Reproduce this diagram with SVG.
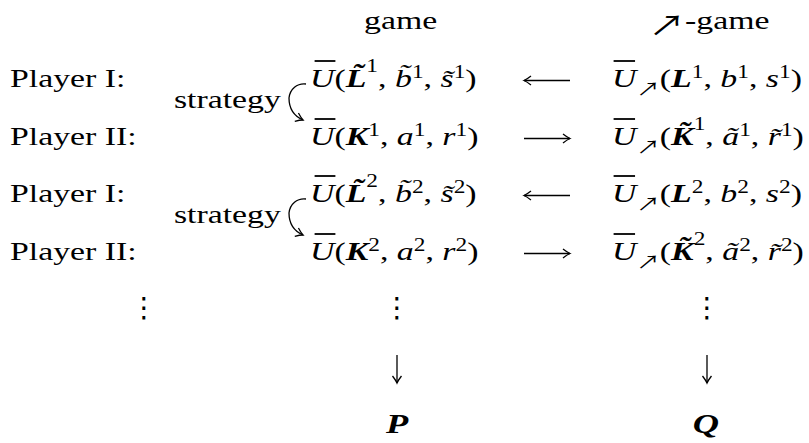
<svg xmlns="http://www.w3.org/2000/svg" width="809" height="443" viewBox="0 0 809 443">
<style>
text { font-family: "Liberation Serif", "DejaVu Serif", serif; font-size: 26px; fill: #000; }
.i { font-style: italic; }
.bi { font-style: italic; font-weight: bold; }
.sup { font-size: 18px; font-style: normal; font-weight: normal; }
.ar { font-family: "Noto Sans CJK JP", "DejaVu Sans", sans-serif; font-size: 18px; font-style: normal; }
.arh { font-family: "Noto Sans CJK JP", "DejaVu Sans", sans-serif; font-size: 28px; }
.dots { font-family: "DejaVu Sans", sans-serif; font-size: 28px; text-anchor: middle; }
.big { font-size: 28px; text-anchor: middle; }
.bar { stroke: #000; stroke-width: 1.8; }
.conn { stroke: #000; stroke-width: 1.3; fill: none; }
</style>
<defs>
<marker id="head" markerUnits="userSpaceOnUse" markerWidth="10" markerHeight="12" viewBox="-8 -6 10 12" refX="0" refY="0" orient="auto">
<path d="M -7 -4.5 Q -2.5 -1 0 0 Q -2.5 1 -7 4.5" fill="none" stroke="#000" stroke-width="1.3"/>
</marker>
</defs>
<rect width="809" height="443" fill="#fff"/>
<g transform="scale(1.3 1)">
<g id="header-game"><text x="280" y="29">game</text></g>
<g id="header-up-game"><text x="499" y="29"><tspan class="arh" y="36">↗</tspan><tspan y="29">-game</tspan></text></g>
<g id="label-p1-1"><text x="7.7" y="87">Player I:</text></g>
<g id="label-p2-1"><text x="7.7" y="145">Player II:</text></g>
<g id="label-p1-2"><text x="7.7" y="202">Player I:</text></g>
<g id="label-p2-2"><text x="7.7" y="260">Player II:</text></g>
<g id="strategy-1"><text x="133.8" y="108">strategy</text></g>
<g id="strategy-2"><text x="133.8" y="223">strategy</text></g>

<g id="game-row1">
<line class="bar" x1="242" y1="61" x2="258" y2="61"/>
<text x="238.5" y="87"><tspan class="i">U</tspan>(<tspan class="bi">L&#x303;</tspan><tspan class="sup" y="72">1</tspan><tspan y="87">, </tspan><tspan class="i">b&#x303;</tspan><tspan class="sup" y="78">1</tspan><tspan y="87">, </tspan><tspan class="i">s&#x303;</tspan><tspan class="sup" y="78">1</tspan><tspan y="87">)</tspan></text>
</g>
<g id="game-row2">
<line class="bar" x1="242" y1="119" x2="258" y2="119"/>
<text x="238.5" y="145"><tspan class="i">U</tspan>(<tspan class="bi">K</tspan><tspan class="sup" y="136">1</tspan><tspan y="145">, </tspan><tspan class="i">a</tspan><tspan class="sup" y="136">1</tspan><tspan y="145">, </tspan><tspan class="i">r</tspan><tspan class="sup" y="136">1</tspan><tspan y="145">)</tspan></text>
</g>
<g id="game-row3">
<line class="bar" x1="242" y1="176" x2="258" y2="176"/>
<text x="238.5" y="202"><tspan class="i">U</tspan>(<tspan class="bi">L&#x303;</tspan><tspan class="sup" y="187">2</tspan><tspan y="202">, </tspan><tspan class="i">b&#x303;</tspan><tspan class="sup" y="193">2</tspan><tspan y="202">, </tspan><tspan class="i">s&#x303;</tspan><tspan class="sup" y="193">2</tspan><tspan y="202">)</tspan></text>
</g>
<g id="game-row4">
<line class="bar" x1="242" y1="234" x2="258" y2="234"/>
<text x="238.5" y="260"><tspan class="i">U</tspan>(<tspan class="bi">K</tspan><tspan class="sup" y="251">2</tspan><tspan y="260">, </tspan><tspan class="i">a</tspan><tspan class="sup" y="251">2</tspan><tspan y="260">, </tspan><tspan class="i">r</tspan><tspan class="sup" y="251">2</tspan><tspan y="260">)</tspan></text>
</g>

<g id="upgame-row1">
<line class="bar" x1="472" y1="61" x2="488.5" y2="61"/>
<text x="470.8" y="87"><tspan class="i">U</tspan><tspan class="ar" y="96">↗</tspan><tspan y="87">(</tspan><tspan class="bi">L</tspan><tspan class="sup" y="78">1</tspan><tspan y="87">, </tspan><tspan class="i">b</tspan><tspan class="sup" y="78">1</tspan><tspan y="87">, </tspan><tspan class="i">s</tspan><tspan class="sup" y="78">1</tspan><tspan y="87">)</tspan></text>
</g>
<g id="upgame-row2">
<line class="bar" x1="472" y1="119" x2="488.5" y2="119"/>
<text x="470.8" y="145"><tspan class="i">U</tspan><tspan class="ar" y="154">↗</tspan><tspan y="145">(</tspan><tspan class="bi">K&#x303;</tspan><tspan class="sup" y="130">1</tspan><tspan y="145">, </tspan><tspan class="i">a&#x303;</tspan><tspan class="sup" y="136">1</tspan><tspan y="145">, </tspan><tspan class="i">r&#x303;</tspan><tspan class="sup" y="136">1</tspan><tspan y="145">)</tspan></text>
</g>
<g id="upgame-row3">
<line class="bar" x1="472" y1="176" x2="488.5" y2="176"/>
<text x="470.8" y="202"><tspan class="i">U</tspan><tspan class="ar" y="211">↗</tspan><tspan y="202">(</tspan><tspan class="bi">L</tspan><tspan class="sup" y="193">2</tspan><tspan y="202">, </tspan><tspan class="i">b</tspan><tspan class="sup" y="193">2</tspan><tspan y="202">, </tspan><tspan class="i">s</tspan><tspan class="sup" y="193">2</tspan><tspan y="202">)</tspan></text>
</g>
<g id="upgame-row4">
<line class="bar" x1="472" y1="234" x2="488.5" y2="234"/>
<text x="470.8" y="260"><tspan class="i">U</tspan><tspan class="ar" y="269">↗</tspan><tspan y="260">(</tspan><tspan class="bi">K&#x303;</tspan><tspan class="sup" y="245">2</tspan><tspan y="260">, </tspan><tspan class="i">a&#x303;</tspan><tspan class="sup" y="251">2</tspan><tspan y="260">, </tspan><tspan class="i">r&#x303;</tspan><tspan class="sup" y="251">2</tspan><tspan y="260">)</tspan></text>
</g>

<g id="limit-P"><text class="bi big" x="305.4" y="433">P</text></g>
<g id="limit-Q"><text class="bi big" x="543" y="433">Q</text></g>
</g>

<g id="dots">
<text class="dots" x="144" y="317">⋮</text>
<text class="dots" x="397" y="317">⋮</text>
<text class="dots" x="707" y="317">⋮</text>
</g>

<g id="connectors">
<path class="conn" d="M 306 84 C 297 83 290 89 289 98 C 289 108 294 116 303 120" marker-end="url(#head)"/>
<path class="conn" d="M 306 199 C 297 198 290 204 289 213 C 289 223 294 231 303 235" marker-end="url(#head)"/>
<line class="conn" x1="570" y1="80.5" x2="524" y2="80.5" marker-end="url(#head)"/>
<line class="conn" x1="524" y1="138.5" x2="570" y2="138.5" marker-end="url(#head)"/>
<line class="conn" x1="570" y1="195.5" x2="524" y2="195.5" marker-end="url(#head)"/>
<line class="conn" x1="524" y1="253.5" x2="570" y2="253.5" marker-end="url(#head)"/>
<line class="conn" x1="397" y1="355" x2="397" y2="383" marker-end="url(#head)"/>
<line class="conn" x1="707" y1="355" x2="707" y2="383" marker-end="url(#head)"/>
</g>
</svg>
